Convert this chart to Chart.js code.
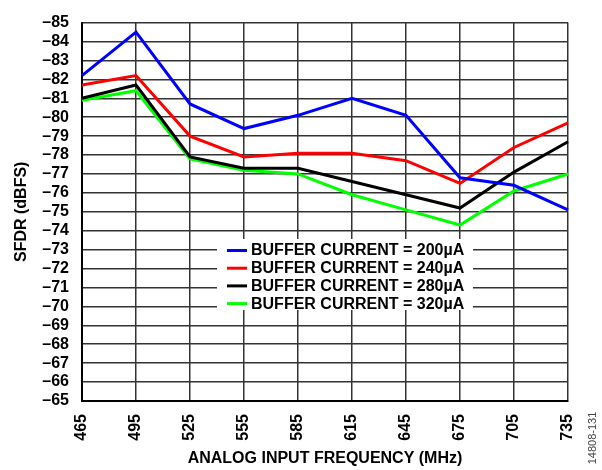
<!DOCTYPE html>
<html>
<head>
<meta charset="utf-8">
<script src="https://cdn.jsdelivr.net/npm/chart.js@4"></script>
<style>
  html, body { margin: 0; padding: 0; background: #fff; }
  #wrap { width: 602px; height: 470px; }
</style>
</head>
<body>
<div id="wrap"><canvas id="chart" width="602" height="470"></canvas></div>
<script>
// data
const frequencies = ["465", "495", "525", "555", "585", "615", "645", "675", "705", "735"];
const current200 = [-82.2, -84.5, -80.7, -79.4, -80.1, -81.0, -80.1, -76.8, -76.4, -75.1];
const current240 = [-81.7, -82.2, -79.0, -77.9, -78.1, -78.1, -77.7, -76.5, -78.4, -79.7];
const current280 = [-81.0, -81.7, -77.9, -77.3, -77.3, -76.6, -75.9, -75.2, -77.1, -78.7];
const current320 = [-80.9, -81.4, -77.8, -77.2, -77.0, -75.9, -75.1, -74.3, -76.1, -77.0];
const seriesLabels = [
  "BUFFER CURRENT = 200µA",
  "BUFFER CURRENT = 240µA",
  "BUFFER CURRENT = 280µA",
  "BUFFER CURRENT = 320µA"
];
const yMin = -85;
const yMax = -65;

const FONT = "'Liberation Sans', Arial, sans-serif";
const colors = ["#0000ff", "#ff0000", "#000000", "#00ff00"];
const values = [current200, current240, current280, current320];

// legend drawn inside the plot, boxed in white
const boxLegend = {
  id: "boxLegend",
  afterDatasetsDraw(chart) {
    const ctx = chart.ctx;
    const x0 = 217, y0 = 239, w = 256, h = 71;
    ctx.save();
    ctx.fillStyle = "#fff";
    ctx.fillRect(x0, y0, w, h);
    ctx.font = "bold 16px " + FONT;
    ctx.textBaseline = "middle";
    chart.data.datasets.forEach((ds, i) => {
      const y = 250.5 + i * 17.7;
      ctx.strokeStyle = ds.borderColor;
      ctx.lineWidth = 3;
      ctx.beginPath();
      ctx.moveTo(227, y);
      ctx.lineTo(247, y);
      ctx.stroke();
      ctx.fillStyle = "#000";
      ctx.fillText(ds.label, 251, y + 0.5);
    });
    ctx.restore();
  },
  afterDraw(chart) {
    const ctx = chart.ctx;
    ctx.save();
    ctx.translate(593, 438);
    ctx.rotate(-Math.PI / 2);
    ctx.font = "11px " + FONT;
    ctx.fillStyle = "#444";
    ctx.textAlign = "center";
    ctx.textBaseline = "middle";
    ctx.fillText("14808-131", 0, 0);
    ctx.restore();
  }
};

new Chart(document.getElementById("chart"), {
  type: "line",
  data: {
    labels: frequencies,
    datasets: values.map((v, i) => ({
      label: seriesLabels[i],
      data: v,
      borderColor: colors[i],
      backgroundColor: colors[i],
      borderWidth: 3,
      pointRadius: 0,
      tension: 0
    }))
  },
  options: {
    responsive: false,
    animation: false,
    layout: { padding: { left: 0, top: 16, right: 34, bottom: 0 } },
    plugins: {
      legend: { display: false },
      tooltip: { enabled: false }
    },
    scales: {
      x: {
        grid: { color: "#333", lineWidth: 1.5, drawTicks: false },
        border: { color: "#000", width: 2 },
        ticks: {
          color: "#000",
          font: { family: FONT, size: 16, weight: "bold" },
          minRotation: 90,
          maxRotation: 90,
          padding: 13,
          autoSkip: false
        },
        title: {
          display: true,
          text: "ANALOG INPUT FREQUENCY (MHz)",
          color: "#000",
          font: { family: FONT, size: 16, weight: "bold" },
          padding: { top: 0, bottom: 2 }
        },
        afterFit(scale) { scale.height = 69; }
      },
      y: {
        reverse: true,
        min: yMin,
        max: yMax,
        grid: { color: "#333", lineWidth: 1.5, drawTicks: false },
        border: { color: "#000", width: 2 },
        ticks: {
          stepSize: 1,
          autoSkip: false,
          color: "#000",
          font: { family: FONT, size: 16, weight: "bold" },
          padding: 13,
          callback: (v) => "\u2013" + Math.abs(v)
        },
        title: {
          display: true,
          text: "SFDR (dBFS)",
          color: "#000",
          font: { family: FONT, size: 16, weight: "bold" },
          padding: { top: 12, bottom: 0 }
        },
        afterFit(scale) { scale.width = 82; }
      }
    }
  },
  plugins: [boxLegend]
});
</script>
</body>
</html>
